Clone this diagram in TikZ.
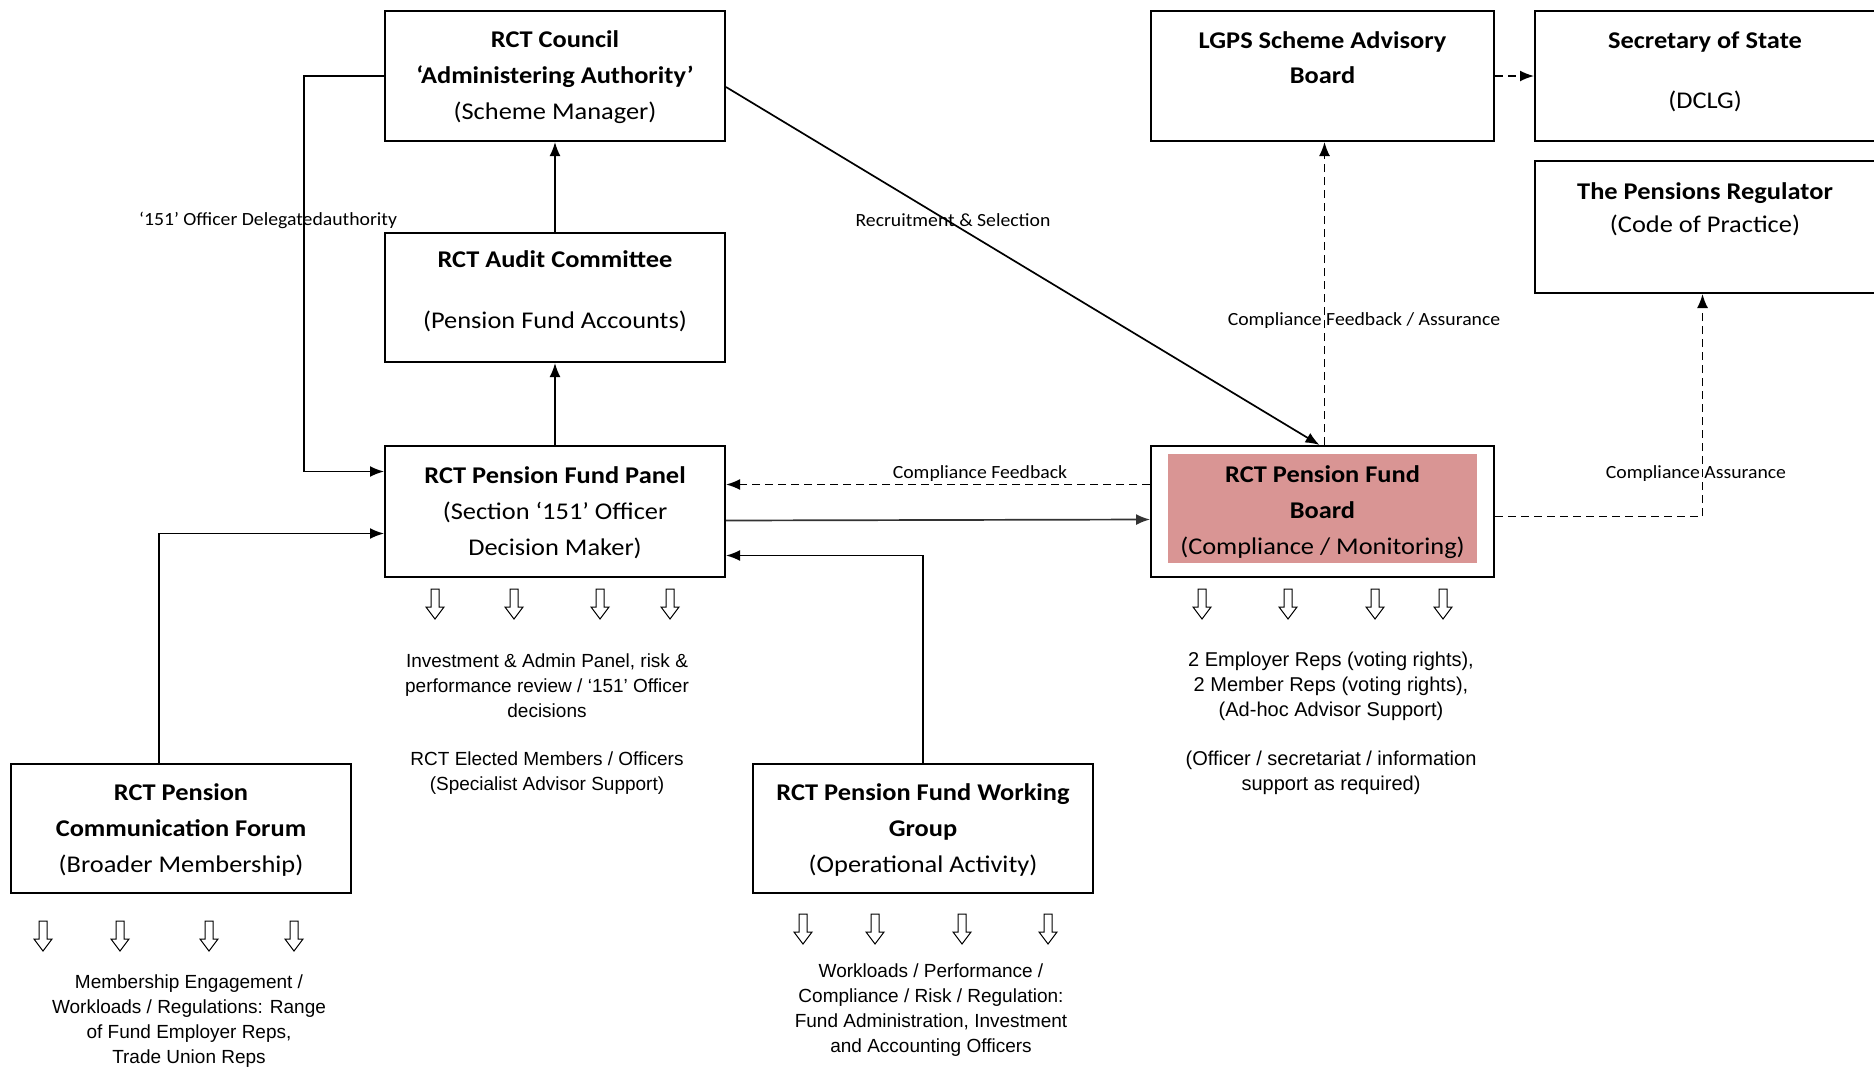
\documentclass[tikz,border=0pt]{standalone}
\usepackage{fontspec}
\setmainfont{Carlito}
\newfontfamily\boxfont[FakeStretch=1.1]{Carlito}
\newfontfamily\lblfont[FakeStretch=1.06]{Carlito}
\newfontfamily\notefont{Liberation Sans}
\usetikzlibrary{arrows.meta,calc}
\definecolor{boardpink}{HTML}{D99594}
\tikzset{
  box/.style={draw, line width=1pt, minimum width=170pt, minimum height=65pt, inner sep=0pt},
  btxt/.style={align=center, inner sep=0pt, font={\boxfont\fontsize{12}{18}\selectfont}},
  lbl/.style={inner sep=0pt, font={\lblfont\fontsize{9.3}{11}\selectfont}},
  note/.style={align=center, inner sep=0pt, font={\notefont\fontsize{9.5}{12.5}\selectfont}},
  arr/.style={line width=0.85pt, -{Latex[length=7pt,width=5.5pt]}},
  darr/.style={arr, dash pattern=on 4pt off 2.5pt},
  downarr/.pic={\draw[line width=0.5pt, fill=white, line join=miter] (-4,0) -- (4,0) -- (4,18) -- (9,18) -- (0,30) -- (-9,18) -- (-4,18) -- cycle;}
}
\begin{document}
\begin{tikzpicture}[x=0.5pt,y=-0.5pt]
\useasboundingbox[fill=white] (0,0) rectangle (1874,1066);

% boxes
\node[box] (council) at (555,76) {};
\node[btxt] (counciltxt) at (555,77.5) {\textbf{RCT Council}\\\textbf{‘Administering Authority’}\\(Scheme Manager)};
\node[box, minimum height=64.5pt] (audit) at (555,297.5) {};
\node[btxt] (audittxt) at (555,291.5) {\textbf{RCT Audit Committee}\\[12.5pt](Pension Fund Accounts)};
\node[box, minimum height=65.5pt] (panel) at (555,511.5) {};
\node[btxt] (paneltxt) at (555,512.5) {\textbf{RCT Pension Fund Panel}\\(Section ‘151’ Officer\\Decision Maker)};

\node[fill=boardpink, minimum width=154.5pt, minimum height=54.5pt, inner sep=0pt] (boardfill) at (1322.5,508.5) {};
\node[box, minimum width=171.5pt, minimum height=65.5pt] (board) at (1322.5,511.5) {};
\node[btxt] (boardtxt) at (1322.5,512.5) {\textbf{RCT Pension Fund}\\\textbf{Board}\\(Compliance / Monitoring)};

\node[box, minimum width=171.5pt] (lgps) at (1322.5,76) {};
\node[btxt, font={\boxfont\fontsize{12}{17.5}\selectfont}] (lgpstxt) at (1322.5,58) {\textbf{LGPS Scheme Advisory}\\\textbf{Board}};

\node[box, minimum width=170.5pt] (sec) at (1705.5,76) {};
\node[btxt] (sectxt) at (1705,71.5) {\textbf{Secretary of State}\\[12pt](DCLG)};

\node[box, minimum width=170.5pt, minimum height=66pt] (reg) at (1705.5,227) {};
\node[btxt, font={\boxfont\fontsize{12}{16.5}\selectfont}] (regtxt) at (1705,209) {\textbf{The Pensions Regulator}\\(Code of Practice)};

\node[box, minimum height=64.5pt] (cf) at (181,828.5) {};
\node[btxt] (cftxt) at (181,830.5) {\textbf{RCT Pension}\\\textbf{Communication Forum}\\(Broader Membership)};
\node[box, minimum height=64.5pt] (wg) at (923,828.5) {};
\node[btxt] (wgtxt) at (923,830.5) {\textbf{RCT Pension Fund Working}\\\textbf{Group}\\(Operational Activity)};

% connectors
\draw[arr] (council.west) -- ++(-80,0) |- ($(panel.west)+(0,-40)$);
\draw[arr] (audit.north) -- (council.south);
\draw[arr] (panel.north) -- (audit.south);
\draw[arr] ($(council.east)+(0,11)$) -- ($(board.north)+(-3,0)$);
\draw[darr] ($(board.north)+(2,0)$) -- ($(lgps.south)+(2,0)$);
\draw[darr] (lgps.east) -- (sec.west);
\draw[darr] ($(board.east)+(0,5)$) -| ($(reg.south)+(-3,0)$);
\draw[darr] ($(board.west)+(0,-27)$) -- ($(panel.east)+(0,-27)$);
\draw[arr, draw=black!80] ($(panel.east)+(0,9)$) -- ($(board.west)+(0,8)$);
\draw[arr] (wg.north) |- ($(panel.east)+(0,44)$);
\draw[arr] ($(cf.north)+(-22,0)$) |- ($(panel.west)+(0,22)$);

% connector labels
\node[lbl] (l151) at (268,220) {‘151’ Officer Delegatedauthority};
\node[lbl] (lrec) at (953,220) {Recruitment \& Selection};
\node[lbl] (lcfa) at (1364,321) {Compliance Feedback / Assurance};
\node[lbl] (lcf) at (980,474) {Compliance Feedback};
\node[lbl] (lca) at (1696,474) {Compliance Assurance};

% hollow arrows
\foreach \x in {435,514,600,670} \pic at (\x,589) {downarr};
\foreach \x in {1202,1288,1375,1443} \pic at (\x,589) {downarr};
\foreach \x in {43,120,209,294} \pic at (\x,921) {downarr};
\foreach \x in {803,875,962,1048} \pic at (\x,914) {downarr};

% notes
\node[note] (pn1) at (547,686) {Investment \& Admin Panel, risk \&\\performance review / ‘151’ Officer\\decisions};
\node[note] (pn2) at (547,773) {RCT Elected Members / Officers\\(Specialist Advisor Support)};
\node[note, font={\notefont\fontsize{10}{12.5}\selectfont}] (bn1) at (1331,686) {2 Employer Reps (voting rights),\\2 Member Reps (voting rights),\\(Ad-hoc Advisor Support)};
\node[note, font={\notefont\fontsize{10}{12.5}\selectfont}] (bn2) at (1331,773) {(Officer / secretariat / information\\support as required)};
\node[note] (cfn) at (189,1021) {Membership Engagement /\\Workloads / Regulations: Range\\of Fund Employer Reps,\\Trade Union Reps};
\node[note] (wgn) at (931,1010) {Workloads / Performance /\\Compliance / Risk / Regulation:\\Fund Administration, Investment\\and Accounting Officers};
\end{tikzpicture}
\end{document}
